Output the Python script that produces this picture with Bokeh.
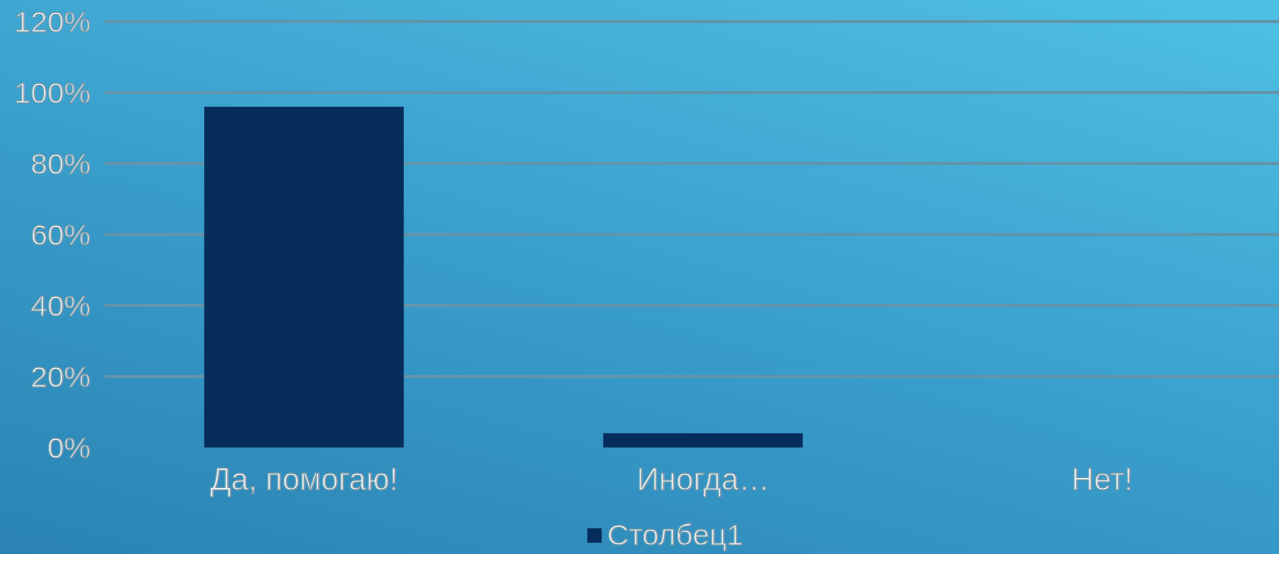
from bokeh.plotting import figure
from bokeh.models import Range1d, FixedTicker, Legend, LegendItem, ColumnDataSource
from bokeh.embed import file_html
from bokeh.resources import INLINE

# ---- data ----
categories = ["Да, помогаю!", "Иногда…", "Нет!"]
values = [0.96, 0.04, 0.0]
y_ticks = [0, 0.2, 0.4, 0.6, 0.8, 1.0, 1.2]
y_tick_labels = ["0%", "20%", "40%", "60%", "80%", "100%", "120%"]
series_name = "Столбец1"

x_pos = [i + 0.5 for i in range(len(categories))]
source = ColumnDataSource(dict(x=x_pos, top=values, cat=categories))

FONT = "Liberation Sans"
TXT = "#eef3f5"
OUTLINE = "#6a93a6"

p = figure(width=1279, height=554, output_backend="svg", toolbar_location=None,
           x_range=Range1d(0, 2.9449), y_range=Range1d(-0.3014, 1.2592),
           min_border_left=104, min_border_right=0, min_border_top=0,
           min_border_bottom=0)

p.background_fill_alpha = 0
p.outline_line_alpha = 0
p.styles = {"background": "linear-gradient(15deg, #2a83b3 0%, #3a9fcd 50%, #4fc0e3 100%)"}
p.border_fill_alpha = 0

r = p.vbar(x="x", top="top", width=0.5, source=source,
           fill_color="#062c5c", line_color=None)

# y axis
p.yaxis.ticker = FixedTicker(ticks=y_ticks)
p.yaxis.major_label_overrides = {t: l for t, l in zip(y_ticks, y_tick_labels)}
p.yaxis.axis_line_alpha = 0
p.yaxis.major_tick_line_alpha = 0
p.yaxis.minor_tick_line_alpha = 0
p.yaxis.major_tick_out = 0
p.yaxis.major_tick_in = 0
p.yaxis.major_label_standoff = 14
p.yaxis.major_label_text_font = FONT
p.yaxis.major_label_text_font_size = "30px"
p.yaxis.major_label_text_color = TXT

# x axis, drawn at the 0 line inside the frame
p.xaxis.fixed_location = 0
p.xaxis.ticker = FixedTicker(ticks=x_pos)
p.xaxis.major_label_overrides = {x: c for x, c in zip(x_pos, categories)}
p.xaxis.axis_line_alpha = 0
p.xaxis.major_tick_line_alpha = 0
p.xaxis.minor_tick_line_alpha = 0
p.xaxis.major_tick_out = 0
p.xaxis.major_tick_in = 0
p.xaxis.major_label_standoff = 14
p.xaxis.major_label_text_font = FONT
p.xaxis.major_label_text_font_size = "31px"
p.xaxis.major_label_text_color = TXT

for ax in (p.xaxis, p.yaxis):
    try:
        ax.major_label_text_outline_color = OUTLINE
    except Exception:
        pass

# grid
p.xgrid.grid_line_alpha = 0
p.ygrid.ticker = FixedTicker(ticks=[t for t in y_ticks if t > 0])
p.ygrid.grid_line_color = "#6494a9"
p.ygrid.grid_line_width = 3

legend = Legend(items=[LegendItem(label=series_name, renderers=[r])],
                location=(481, 2), orientation="horizontal",
                background_fill_alpha=0, border_line_alpha=0,
                label_text_font=FONT, label_text_font_size="30px",
                label_text_color=TXT, glyph_width=18, glyph_height=18,
                label_standoff=4, padding=0, margin=0)
try:
    legend.label_text_outline_color = OUTLINE
except Exception:
    pass
p.add_layout(legend, "center")

open("out.html", "w").write(file_html(p, INLINE))
